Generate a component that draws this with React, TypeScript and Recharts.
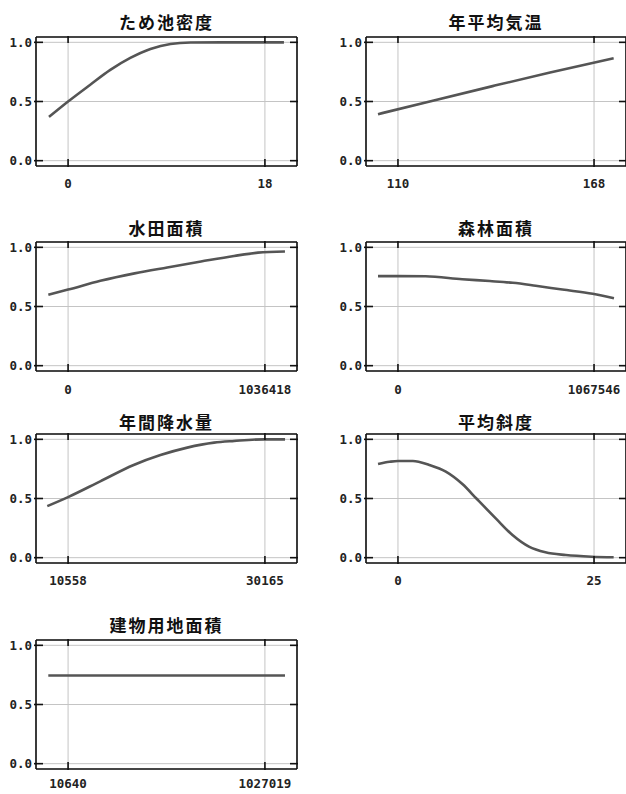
import { LineChart, Line, XAxis, YAxis, CartesianGrid } from 'recharts';

const titles = ['ため池密度', '年平均気温', '水田面積', '森林面積', '年間降水量', '平均斜度', '建物用地面積'];

// x positions and response values
const tameikeX = [-1.74, 0, 2, 3.86, 5.69, 7.53, 9.37, 11.2, 14, 17, 19.74];
const tameikeY = [0.37, 0.5, 0.64, 0.767, 0.868, 0.944, 0.986, 0.998, 1.0, 1.0, 1.0];

const kionX = [104.1, 120, 138, 155, 173.8];
const kionY = [0.393, 0.505, 0.63, 0.745, 0.865];

const suidenX = [-104000, 0, 170000, 350000, 522000, 700000, 874000, 1000000, 1142000];
const suidenY = [0.6, 0.643, 0.717, 0.78, 0.83, 0.88, 0.927, 0.955, 0.965];

const shinrinX = [-108500, 0, 150000, 350000, 500000, 625000, 750000, 895000, 1060000, 1176000];
const shinrinY = [0.757, 0.757, 0.755, 0.73, 0.715, 0.7, 0.675, 0.643, 0.608, 0.57];

const kousuiX = [8487, 10558, 13760, 17090, 19760, 22430, 25100, 27100, 30100, 32170];
const kousuiY = [0.436, 0.512, 0.645, 0.783, 0.867, 0.93, 0.972, 0.986, 1.0, 1.0];

const keishaX = [-2.54, -1.05, 0, 1.9, 4.0, 6.1, 8.25, 10, 12.5, 14.6, 16.7, 18.8, 21.4, 24.7, 27.5];
const keishaY = [0.791, 0.81, 0.817, 0.817, 0.783, 0.727, 0.62, 0.5, 0.33, 0.191, 0.093, 0.045, 0.022, 0.008, 0.003];

const tatemonoX = [-91500, 500000, 1130700];
const tatemonoY = [0.745, 0.745, 0.745];

const xTicks = [
  [0, 18],
  [110, 168],
  [0, 1036418],
  [0, 1067546],
  [10558, 30165],
  [0, 25],
  [10640, 1027019],
];
const yTicks = [0, 0.5, 1];

const series = [
  [tameikeX, tameikeY],
  [kionX, kionY],
  [suidenX, suidenY],
  [shinrinX, shinrinY],
  [kousuiX, kousuiY],
  [keishaX, keishaY],
  [tatemonoX, tatemonoY],
];

const rowTops = [37, 242, 434, 640];
const titleCenters = [22, 228, 422, 625];
const labelOffsets = [17.5, 18.5, 18, 15];
const PLOT_H = 129;
const TOP_M = 35;
const FRAME = '#111';
const TICK_FONT = {
  fontFamily: '"DejaVu Sans Mono", monospace',
  fontSize: 12.5,
  fontWeight: 'bold',
  fill: '#222',
};

const makeBottomTick = (off: number) => (p: any) => (
  <g>
    <line x1={p.x} x2={p.x} y1={p.y - 7} y2={p.y + 1} stroke={FRAME} strokeWidth={1.6} />
    <text x={p.x} y={p.y + off} dy="0.35em" textAnchor="middle" {...TICK_FONT}>
      {p.payload.value}
    </text>
  </g>
);
const TopTick = (p: any) => (
  <line x1={p.x} x2={p.x} y1={p.y - 1} y2={p.y + 6} stroke={FRAME} strokeWidth={1.6} />
);
const LeftTick = (p: any) => (
  <g>
    <line x1={p.x - 2} x2={p.x + 7} y1={p.y} y2={p.y} stroke={FRAME} strokeWidth={1.6} />
    <text x={p.x - 4} y={p.y} dy="0.35em" textAnchor="end" {...TICK_FONT}>
      {p.payload.value.toFixed(1)}
    </text>
  </g>
);
const RightTick = (p: any) => (
  <line x1={p.x - 7} x2={p.x + 1} y1={p.y} y2={p.y} stroke={FRAME} strokeWidth={1.6} />
);

function Panel({ idx }: { idx: number }) {
  const col = idx % 2;
  const row = Math.floor(idx / 2);
  const [xs, ys] = series[idx];
  const data = xs.map((x, i) => ({ x, y: ys[i] }));
  const [a, b] = xTicks[idx];
  const pad = (b - a) * 0.163;
  const domain = [a - pad, b + pad];
  const chartLeft = col === 0 ? 0 : 330;
  const chartW = col === 0 ? 298 : 297;
  const plotLeft = chartLeft + 36;
  const plotW = chartW - 37;
  const top = rowTops[row] - TOP_M - 1;
  const axisLine = { stroke: FRAME, strokeWidth: 1.6 };
  const bottomH = row === 3 ? 24 : 28;

  return (
    <>
      <div
        style={{
          position: 'absolute',
          left: plotLeft,
          width: plotW,
          top: titleCenters[row] - 12,
          height: 24,
          lineHeight: '24px',
          textAlign: 'center',
          fontFamily: '"Noto Sans CJK JP", sans-serif',
          fontWeight: 'bold',
          fontSize: 17,
          letterSpacing: 2,
          color: '#111',
        }}
      >
        {titles[idx]}
      </div>
      <div style={{ position: 'absolute', left: chartLeft, top }}>
        <LineChart width={chartW} height={TOP_M + 1 + PLOT_H + bottomH} data={data} margin={{ top: TOP_M, right: 0, bottom: 0, left: 0 }}>
          <CartesianGrid stroke="#c4c4c4" strokeWidth={1} />
          <XAxis
            dataKey="x"
            type="number"
            domain={domain}
            ticks={xTicks[idx]}
            interval={0}
            allowDataOverflow
            height={bottomH}
            tickSize={0}
            tickMargin={0}
            tickLine={false}
            axisLine={axisLine}
            tick={makeBottomTick(labelOffsets[row])}
          />
          <XAxis
            xAxisId="top"
            orientation="top"
            dataKey="x"
            type="number"
            domain={domain}
            ticks={xTicks[idx]}
            interval={0}
            allowDataOverflow
            height={1}
            tickSize={0}
            tickMargin={0}
            tickLine={false}
            axisLine={axisLine}
            tick={TopTick}
          />
          <YAxis
            type="number"
            domain={[-0.045, 1.045]}
            ticks={yTicks}
            interval={0}
            allowDataOverflow
            width={36}
            tickSize={0}
            tickMargin={0}
            tickLine={false}
            axisLine={axisLine}
            tick={LeftTick}
          />
          <YAxis
            yAxisId="right"
            orientation="right"
            type="number"
            domain={[-0.045, 1.045]}
            ticks={yTicks}
            interval={0}
            allowDataOverflow
            width={1}
            tickSize={0}
            tickMargin={0}
            tickLine={false}
            axisLine={axisLine}
            tick={RightTick}
          />
          <Line
            type="monotone"
            dataKey="y"
            stroke="#555"
            strokeWidth={2.6}
            dot={false}
            isAnimationActive={false}
          />
        </LineChart>
      </div>
    </>
  );
}

export default function App() {
  return (
    <div
      style={{
        position: 'absolute',
        left: 0,
        top: 0,
        width: 626,
        height: 794,
        overflow: 'hidden',
        background: '#fff',
      }}
    >
      {titles.map((_, i) => (
        <Panel key={i} idx={i} />
      ))}
    </div>
  );
}
